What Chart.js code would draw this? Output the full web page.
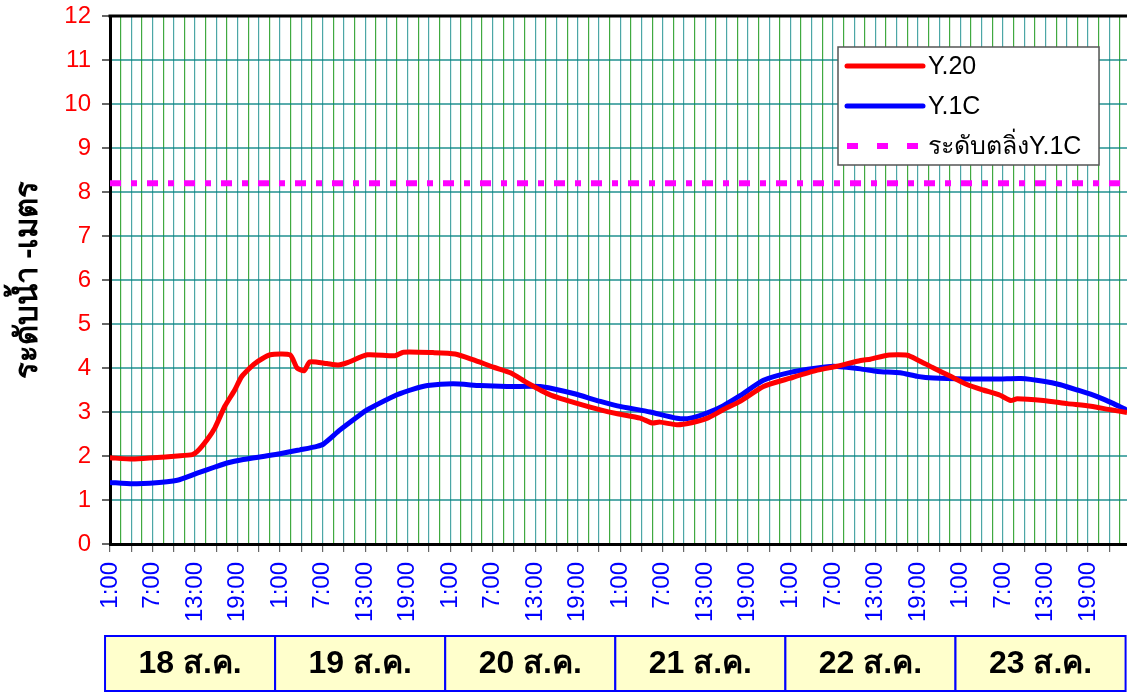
<!DOCTYPE html>
<html>
<head>
<meta charset="utf-8">
<script src="https://cdn.jsdelivr.net/npm/chart.js@4.4.0/dist/chart.umd.min.js"></script>
<style>
  html, body { margin: 0; padding: 0; background: #fff; }
  #wrap { width: 1127px; height: 693px; position: relative; }
</style>
</head>
<body>
<div id="wrap"><canvas id="myChart"></canvas></div>
<script>
// hours counted from 18 ส.ค. 1:00
var y20Hours = [0, 3.2, 6.1, 9.5, 11.6, 12.3, 13.7, 14.8, 16.2, 17.6, 18.6, 20.5, 22.6, 25.4, 26.4,
  27.4, 28.2, 30.6, 32.2, 33.6, 36.3, 40.2, 41.4, 45.6, 48.7, 51.2, 54.1, 56.5, 58.9, 62.1,
  65.4, 69.2, 71.6, 74.8, 76.5, 77.6, 80.0, 81.9, 84.3, 86.5, 88.9, 92.2, 96.0, 99.8, 102.6,
  105.9, 107.3, 109.7, 112.5, 113.9, 116.2, 118.6, 121.0, 123.2, 125.6, 127.1, 128.0, 131.7,
  135.1, 138.4, 141.2, 143.5];
var y20Level = [1.96, 1.93, 1.96, 2.0, 2.03, 2.1, 2.37, 2.64, 3.13, 3.5, 3.81, 4.11, 4.3, 4.3, 4.0,
  3.94, 4.14, 4.1, 4.07, 4.13, 4.3, 4.28, 4.36, 4.35, 4.32, 4.19, 4.02, 3.89, 3.66, 3.39,
  3.22, 3.05, 2.96, 2.86, 2.75, 2.77, 2.71, 2.75, 2.86, 3.05, 3.24, 3.58, 3.77, 3.95, 4.04,
  4.17, 4.2, 4.29, 4.29, 4.19, 4.0, 3.81, 3.62, 3.5, 3.38, 3.26, 3.3, 3.26,
  3.19, 3.13, 3.05, 2.99];

var y1cHours = [0, 3.2, 5.6, 9.5, 12.3, 14.8, 16.5, 18.8, 21.6, 24.0, 26.8, 29.2, 30.1, 32.5, 35.3,
  36.3, 40.5, 42.8, 44.8, 48.4, 52.2, 56.0, 60.7, 62.5, 65.4, 69.2, 71.6, 76.2, 80.0, 81.9,
  84.3, 86.5, 88.9, 92.2, 96.0, 99.8, 102.1, 105.9, 108.3, 111.5, 113.9, 116.2, 121.0, 125.6,
  128.5, 131.7, 134.1, 136.5, 139.3, 141.6, 143.5];
var y1cLevel = [1.40, 1.37, 1.38, 1.45, 1.61, 1.75, 1.84, 1.92, 1.99, 2.05, 2.14, 2.22, 2.27, 2.6, 2.94,
  3.05, 3.39, 3.52, 3.6, 3.64, 3.6, 3.58, 3.58, 3.53, 3.42, 3.24, 3.14, 3.0, 2.86, 2.86,
  2.98, 3.14, 3.37, 3.72, 3.9, 4.0, 4.04, 3.98, 3.92, 3.89, 3.81, 3.77, 3.75, 3.75,
  3.76, 3.7, 3.62, 3.5, 3.35, 3.19, 3.04];

var bankLevel = 8.2;   // ระดับตลิ่ง Y.1C
var timeLabels = ['1:00', '7:00', '13:00', '19:00'];
var dayLabels = ['18 ส.ค.', '19 ส.ค.', '20 ส.ค.', '21 ส.ค.', '22 ส.ค.', '23 ส.ค.'];
var xMax = 143.5;

var FONT = "'Liberation Sans', Arial, sans-serif";

function toPoints(xs, ys) {
  return xs.map((h, i) => ({ x: h, y: ys[i] }));
}

var data = {
  datasets: [{
    label: 'Y.20',
    data: toPoints(y20Hours, y20Level),
    borderColor: '#ff0000',
    borderWidth: 5,
    pointRadius: 0,
    tension: 0.2
  },
  {
    label: 'Y.1C',
    data: toPoints(y1cHours, y1cLevel),
    borderColor: '#0000ff',
    borderWidth: 5,
    pointRadius: 0,
    tension: 0.2
  },
  {
    label: 'ระดับตลิ่งY.1C',
    data: [{ x: 0, y: bankLevel }, { x: xMax, y: bankLevel }],
    borderColor: '#ff00ff',
    borderWidth: 6,
    borderDash: [11, 10, 6, 10],
    pointRadius: 0
  }]
};

// frame top line, legend box and the date row under the axis
var extras = {
  id: 'extras',
  afterDraw(chart) {
    var ctx = chart.ctx, a = chart.chartArea, x = chart.scales.x;
    ctx.save();
    ctx.strokeStyle = '#000';
    ctx.lineWidth = 3;
    ctx.beginPath();
    ctx.moveTo(a.left - 1.5, a.top);
    ctx.lineTo(a.right, a.top);
    ctx.stroke();

    // legend
    var lx = a.right - 289, ly = a.top + 31, lw = 261, lh = 118;
    ctx.fillStyle = '#fff';
    ctx.fillRect(lx, ly, lw, lh);
    ctx.strokeStyle = '#555';
    ctx.lineWidth = 1.5;
    ctx.strokeRect(lx, ly, lw, lh);
    ctx.font = '25px ' + FONT;
    ctx.textBaseline = 'middle';
    chart.data.datasets.forEach((ds, i) => {
      var yy = ly + 19 + i * 40;
      ctx.strokeStyle = ds.borderColor;
      ctx.lineWidth = ds.borderWidth;
      ctx.lineCap = ds.borderDash ? 'butt' : 'round';
      ctx.setLineDash(ds.borderDash ? [11, 19] : []);
      ctx.beginPath();
      ctx.moveTo(lx + 9, yy);
      ctx.lineTo(lx + 85, yy);
      ctx.stroke();
      ctx.setLineDash([]);
      ctx.fillStyle = '#000';
      ctx.textAlign = 'left';
      ctx.fillText(ds.label, lx + 90, yy + 1);
    });

    // date boxes
    var top = chart.height - 57, bottom = chart.height - 2;
    ctx.font = 'bold 32px ' + FONT;
    ctx.textAlign = 'center';
    dayLabels.forEach((d, k) => {
      var l = x.getPixelForValue(24 * k - 0.7);
      var r = x.getPixelForValue(24 * (k + 1) - 0.7);
      ctx.fillStyle = '#ffffcc';
      ctx.fillRect(l, top, r - l, bottom - top);
      ctx.strokeStyle = '#0000ff';
      ctx.lineWidth = 2;
      ctx.strokeRect(l, top, r - l, bottom - top);
      ctx.fillStyle = '#000';
      ctx.fillText(d, (l + r) / 2, (top + bottom) / 2 + 1);
    });
    ctx.restore();
  }
};

var ctx = document.getElementById('myChart').getContext('2d');

var myChart = new Chart(ctx, {
  type: 'line',
  data: data,
  plugins: [extras],
  options: {
    responsive: true,
    maintainAspectRatio: false,
    animation: false,
    layout: { padding: { top: 16, right: 0, bottom: 0, left: 0 } },
    plugins: {
      legend: { display: false },
      tooltip: { enabled: false }
    },
    scales: {
      x: {
        type: 'linear',
        min: 0,
        max: xMax,
        afterBuildTicks(scale) {
          var t = [];
          for (var v = 0; v <= xMax; v += 1.5) t.push({ value: v });
          scale.ticks = t;
        },
        afterFit(scale) {
          scale.height = 149;
          scale.paddingLeft = 0;
          scale.paddingRight = 0;
        },
        border: { color: '#000', width: 3 },
        grid: {
          color(c) {
            var i = Math.round((c.tick ? c.tick.value : 0) / 1.5);
            return i % 2 ? 'rgba(0,140,0,0.75)' : 'rgba(0,128,128,0.7)';
          },
          lineWidth: 1.2,
          tickLength: 8,
          tickColor(c) {
            var v = c.tick ? c.tick.value : 0;
            return v % 3 === 0 ? '#666' : 'rgba(0,0,0,0)';
          }
        },
        ticks: {
          autoSkip: false,
          maxRotation: 90,
          minRotation: 90,
          padding: 10,
          color: '#0000ff',
          font: { family: FONT, size: 24 },
          callback(v) {
            return v % 6 === 0 ? timeLabels[(v / 6) % 4] : '';
          }
        }
      },
      y: {
        min: 0,
        max: 12,
        afterFit(scale) {
          scale.width = 110;
          scale.paddingTop = 0;
          scale.paddingBottom = 0;
        },
        border: { color: '#000', width: 3 },
        grid: {
          color: 'rgba(0,128,128,0.65)',
          lineWidth: 2,
          tickLength: 8,
          tickColor: '#666'
        },
        ticks: {
          stepSize: 1,
          padding: 11,
          color: '#ff0000',
          font: { family: FONT, size: 24 }
        },
        title: {
          display: true,
          text: 'ระดับน้ำ -เมตร',
          color: '#000',
          font: { family: FONT, size: 31, weight: 'bold' },
          padding: { top: 10, bottom: 0 }
        }
      }
    }
  }
});
</script>
</body>
</html>
